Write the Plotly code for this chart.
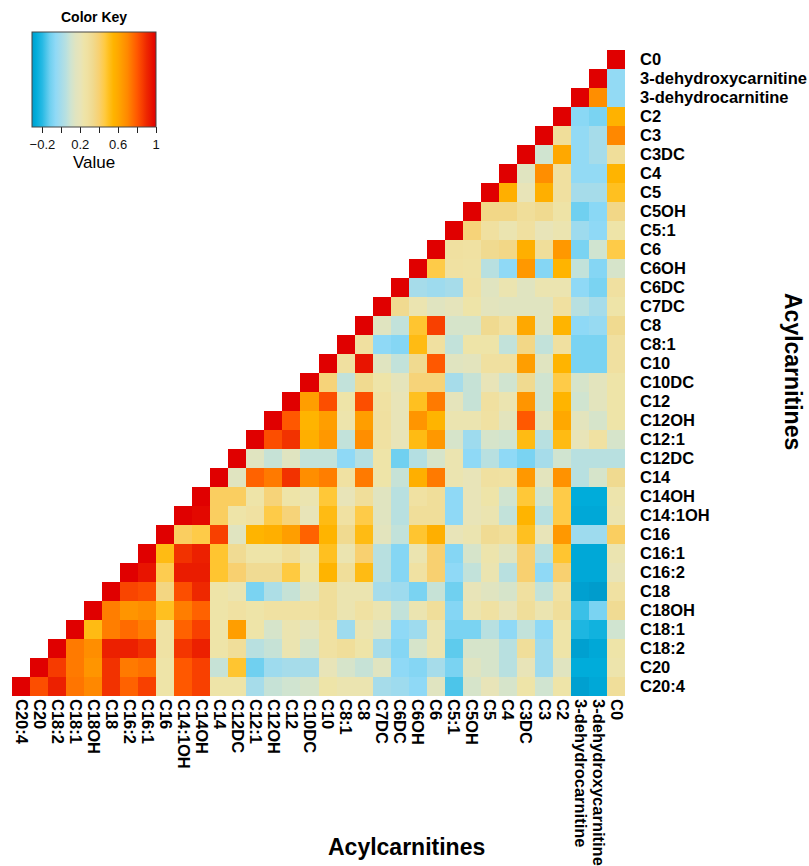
import plotly.graph_objects as go

# Variable names (top-to-bottom row order; columns run in reverse order left-to-right)
names = ["C0", "3-dehydroxycarnitine", "3-dehydrocarnitine", "C2", "C3", "C3DC", "C4", "C5",
         "C5OH", "C5:1", "C6", "C6OH", "C6DC", "C7DC", "C8", "C8:1", "C10", "C10DC", "C12",
         "C12OH", "C12:1", "C12DC", "C14", "C14OH", "C14:1OH", "C16", "C16:1", "C16:2", "C18",
         "C18OH", "C18:1", "C18:2", "C20", "C20:4"]

# Lower triangle of the correlation matrix: row i holds corr(names[i], names[k]) for k = 0..i
r_C0 = [1]
r_3dhx = [-0.05, 1]
r_3dh = [-0.05, 0.68, 1]
r_C2 = [0.56, -0.1, -0.07, 1]
r_C3 = [0.7, 0.0, -0.05, 0.3, 1]
r_C3DC = [0.3, 0.0, -0.05, 0.6, 0.1, 1]
r_C4 = [0.55, -0.05, -0.05, 0.28, 0.68, 0.15, 1]
r_C5 = [0.5, 0.0, 0.0, 0.28, 0.57, 0.2, 0.57, 1]
r_C5OH = [0.35, -0.07, -0.12, 0.25, 0.33, 0.3, 0.35, 0.35, 1]
r_C5_1 = [0.24, -0.06, -0.02, 0.22, 0.2, 0.28, 0.22, 0.28, 0.38, 1]
r_C6 = [0.45, 0.1, -0.1, 0.65, 0.3, 0.57, 0.35, 0.33, 0.27, 0.28, 1]
r_C6OH = [0.12, -0.08, 0.07, 0.55, -0.08, 0.65, -0.06, 0.05, 0.26, 0.27, 0.45, 1]
r_C6DC = [0.28, -0.1, -0.06, 0.22, 0.22, 0.15, 0.22, 0.15, 0.27, 0.0, -0.02, 0.0, 1]
r_C7DC = [0.24, 0.0, 0.05, 0.28, 0.15, 0.15, 0.15, 0.17, 0.24, 0.18, 0.15, 0.22, 0.33, 1]
r_C8 = [0.33, -0.04, -0.06, 0.55, 0.15, 0.6, 0.28, 0.33, 0.12, 0.12, 0.85, 0.48, 0.07, 0.15, 1]
r_C8_1 = [0.28, -0.1, -0.1, 0.28, 0.07, 0.35, 0.07, 0.24, 0.24, 0.07, 0.28, 0.52, -0.08, -0.06,
          0.28, 1]
r_C10 = [0.28, -0.1, -0.1, 0.55, 0.15, 0.63, 0.28, 0.28, 0.17, 0.15, 0.8, 0.33, 0.07, 0.15,
         0.95, 0.28, 1]
r_C10DC = [0.24, 0.17, 0.12, 0.45, 0.1, 0.33, 0.1, 0.2, 0.08, 0.0, 0.38, 0.38, 0.18, 0.24,
           0.33, 0.07, 0.38, 1]
r_C12 = [0.24, 0.17, 0.1, 0.55, 0.1, 0.66, 0.22, 0.28, 0.08, 0.18, 0.73, 0.5, 0.2, 0.27,
         0.82, 0.24, 0.82, 0.63, 1]
r_C12OH = [0.24, 0.12, 0.17, 0.6, 0.17, 0.8, 0.17, 0.27, 0.22, 0.22, 0.55, 0.66, 0.2, 0.28,
           0.63, 0.23, 0.63, 0.55, 0.8, 1]
r_C12_1 = [0.12, 0.27, 0.2, 0.52, 0.05, 0.52, 0.1, 0.12, -0.02, 0.12, 0.65, 0.52, 0.2, 0.27,
           0.68, 0.07, 0.65, 0.57, 0.88, 0.82, 1]
r_C12DC = [0.05, 0.05, 0.05, 0.1, 0.0, -0.1, -0.06, 0.05, -0.06, 0.22, 0.12, 0.04, -0.12, 0.24,
           0.04, -0.06, 0.07, 0.07, 0.15, 0.08, 0.15, 1]
r_C14 = [0.33, 0.12, 0.05, 0.67, 0.17, 0.65, 0.27, 0.28, 0.2, 0.22, 0.73, 0.57, 0.08, 0.24,
         0.73, 0.27, 0.72, 0.68, 0.88, 0.73, 0.78, 0.15, 1]
r_C14OH = [0.23, -0.27, -0.27, 0.45, 0.1, 0.47, 0.1, 0.24, 0.2, -0.06, 0.3, 0.27, 0.05, 0.15,
           0.3, 0.2, 0.47, 0.22, 0.24, 0.38, 0.24, 0.42, 0.42, 1]
r_C14_1OH = [0.22, -0.28, -0.28, 0.45, 0.05, 0.55, 0.07, 0.22, 0.2, -0.06, 0.3, 0.3, 0.05, 0.15,
             0.45, 0.27, 0.52, 0.2, 0.38, 0.45, 0.27, 0.24, 0.42, 0.98, 1]
r_C16 = [0.42, -0.02, -0.02, 0.65, 0.2, 0.5, 0.3, 0.32, 0.22, 0.2, 0.57, 0.48, 0.07, 0.17,
         0.52, 0.33, 0.55, 0.78, 0.63, 0.57, 0.55, 0.15, 0.85, 0.45, 0.42, 1]
r_C16_1 = [0.22, -0.28, -0.28, 0.48, 0.05, 0.4, 0.15, 0.23, 0.12, -0.08, 0.4, 0.22, -0.08, 0.05,
           0.4, 0.22, 0.5, 0.22, 0.3, 0.24, 0.24, 0.32, 0.48, 0.92, 0.88, 0.52, 1]
r_C16_2 = [0.2, -0.28, -0.28, 0.4, -0.06, 0.4, 0.05, 0.22, 0.07, -0.06, 0.4, 0.27, -0.08, 0.05,
           0.52, 0.3, 0.55, 0.24, 0.46, 0.32, 0.32, 0.4, 0.48, 0.93, 0.93, 0.44, 0.95, 1]
r_C18 = [0.27, -0.32, -0.3, 0.27, 0.07, 0.28, 0.12, 0.15, 0.2, -0.12, 0.08, -0.1, -0.02, 0.0,
         0.22, 0.22, 0.3, 0.15, 0.08, 0.02, -0.1, 0.22, 0.24, 0.9, 0.82, 0.36, 0.82, 0.84, 1]
r_C18OH = [0.32, -0.1, -0.18, 0.3, 0.22, 0.3, 0.2, 0.27, 0.22, -0.08, 0.3, 0.22, 0.07, 0.22,
           0.27, 0.22, 0.3, 0.27, 0.27, 0.27, 0.24, 0.27, 0.24, 0.78, 0.72, 0.5, 0.68, 0.66,
           0.72, 1]
r_C18_1 = [0.1, -0.24, -0.22, 0.24, -0.06, 0.07, -0.06, 0.05, -0.1, -0.1, 0.22, -0.02, -0.06,
           0.15, 0.22, -0.02, 0.27, 0.18, 0.22, 0.12, 0.24, 0.63, 0.24, 0.85, 0.78, 0.26, 0.72,
           0.76, 0.72, 0.52, 1]
r_C18_2 = [0.24, -0.28, -0.3, 0.24, -0.02, 0.3, 0.05, 0.12, 0.12, -0.14, 0.22, 0.12, -0.08, 0.0,
           0.24, 0.3, 0.27, 0.12, 0.22, 0.08, 0.05, 0.3, 0.24, 0.92, 0.87, 0.26, 0.88, 0.92,
           0.92, 0.68, 0.73, 1]
r_C20 = [0.23, -0.27, -0.27, 0.15, -0.02, 0.2, 0.05, 0.12, 0.15, -0.1, 0.0, -0.08, -0.06, 0.15,
         0.08, 0.12, 0.2, 0.0, 0.0, -0.02, -0.12, 0.48, 0.08, 0.85, 0.8, 0.24, 0.75, 0.73, 0.88,
         0.66, 0.73, 0.86, 1]
r_C20_4 = [0.3, -0.28, -0.3, 0.24, 0.1, 0.24, 0.12, 0.2, 0.12, -0.16, 0.15, -0.06, -0.02, 0.0,
           0.22, 0.22, 0.24, 0.12, 0.1, 0.08, 0.0, 0.24, 0.24, 0.85, 0.8, 0.24, 0.85, 0.78, 0.88,
           0.7, 0.74, 0.92, 0.82, 1]

rows = [r_C0, r_3dhx, r_3dh, r_C2, r_C3, r_C3DC, r_C4, r_C5, r_C5OH, r_C5_1, r_C6, r_C6OH,
        r_C6DC, r_C7DC, r_C8, r_C8_1, r_C10, r_C10DC, r_C12, r_C12OH, r_C12_1, r_C12DC, r_C14,
        r_C14OH, r_C14_1OH, r_C16, r_C16_1, r_C16_2, r_C18, r_C18OH, r_C18_1, r_C18_2, r_C20,
        r_C20_4]

col_names = names[::-1]
z = []
for i, row in enumerate(rows):
    zr = []
    for cname in col_names:
        k = names.index(cname)
        zr.append(row[k] if k <= i else None)
    z.append(zr)

zmin, zmax = -0.31, 1.0
stops = [(-0.31, "#009ccc"), (-0.27, "#00acda"), (-0.2, "#28bae4"), (-0.12, "#70d0f0"),
         (-0.06, "#8fd9f6"), (0.0, "#a6dcea"), (0.05, "#b8e0e0"), (0.1, "#d0e4d0"),
         (0.15, "#e0e4c0"), (0.2, "#e8e4b8"), (0.24, "#eee4a8"), (0.28, "#f0e0a0"),
         (0.33, "#f0da90"), (0.4, "#f8d070"), (0.46, "#ffca40"), (0.5, "#ffc020"),
         (0.55, "#ffb400"), (0.6, "#ffa800"), (0.65, "#ff9800"), (0.7, "#ff8800"),
         (0.75, "#ff7000"), (0.8, "#ff5800"), (0.85, "#f84000"), (0.9, "#ee2800"),
         (0.95, "#e81400"), (1.0, "#e00000")]
colorscale = [[(v - zmin) / (zmax - zmin), c] for v, c in stops]

key_tickvals = [-0.2, 0.0, 0.2, 0.4, 0.6, 0.8, 1.0]
key_ticktext = ["\u22120.2", "", "0.2", "", "0.6", "", "1"]

FONT = "Liberation Sans, Arial, sans-serif"

L, R, T, B = 12, 184, 50, 170
W, H = 809, 866
pw, ph = W - L - R, H - T - B

def px_x(x):
    return (x - L) / pw

def px_y(y):
    return (H - B - y) / ph

fig = go.Figure(go.Heatmap(
    z=z, x=col_names, y=names, zmin=zmin, zmax=zmax, colorscale=colorscale,
    hoverongaps=False,
    colorbar=dict(orientation="h", lenmode="pixels", len=124, thickness=95,
                  x=px_x(94), xanchor="center", y=px_y(32), yanchor="top",
                  xpad=0, ypad=0, outlinewidth=1, outlinecolor="#444",
                  tickvals=key_tickvals, ticktext=key_ticktext, ticks="outside",
                  ticklen=6, tickcolor="#222", tickfont=dict(size=13, color="#111", family=FONT)),
))

fig.update_layout(
    width=W, height=H, margin=dict(l=L, r=R, t=T, b=B),
    paper_bgcolor="white", plot_bgcolor="white",
    font=dict(family=FONT, color="black"),
    xaxis=dict(type="category", categoryorder="array", categoryarray=col_names,
               tickmode="array", tickvals=col_names, ticktext=col_names,
               tickangle=90, showgrid=False, zeroline=False, showline=False, ticks="",
               automargin=False, tickfont=dict(size=16.5, family=FONT, weight="bold"),
               ticklabelstandoff=2),
    yaxis=dict(type="category", categoryorder="array", categoryarray=names,
               tickmode="array", tickvals=names, ticktext=names,
               autorange="reversed", side="right", showgrid=False, zeroline=False,
               showline=False, ticks="", automargin=False,
               tickfont=dict(size=16.5, family=FONT, weight="bold"), ticklabelstandoff=14),
    annotations=[
        dict(text="<b>Color Key</b>", x=px_x(94), y=px_y(17), xref="paper", yref="paper",
             showarrow=False, font=dict(size=14, family=FONT), xanchor="center", yanchor="middle"),
        dict(text="Value", x=px_x(94), y=px_y(162), xref="paper", yref="paper",
             showarrow=False, font=dict(size=17, family=FONT), xanchor="center", yanchor="middle"),
        dict(text="<b>Acylcarnitines</b>", x=px_x(406), y=px_y(847), xref="paper", yref="paper",
             showarrow=False, font=dict(size=23, family=FONT), xanchor="center", yanchor="middle"),
        dict(text="<b>Acylcarnitines</b>", x=px_x(793), y=px_y(371), xref="paper", yref="paper",
             showarrow=False, textangle=90, font=dict(size=23, family=FONT),
             xanchor="center", yanchor="middle"),
    ],
)

fig.write_html("out.html", config={"displayModeBar": False},
               post_script="document.body.style.margin='0px';document.body.style.padding='0px';")
